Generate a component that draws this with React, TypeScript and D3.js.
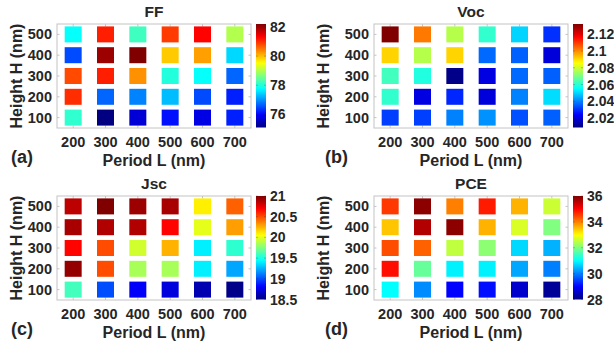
import React from "react";
import * as d3 from "d3";

const periods = [200, 300, 400, 500, 600, 700];
const heights = [100, 200, 300, 400, 500];

// rows follow heights (100 -> 500), columns follow periods
const ffValues = [
  [78.1, 75.1, 75.7, 76.1, 75.8, 76.2],
  [81.0, 76.7, 76.9, 77.3, 76.5, 76.2],
  [80.8, 81.1, 80.3, 78.0, 77.8, 76.7],
  [76.5, 82.0, 82.2, 79.9, 80.2, 77.5],
  [77.8, 81.1, 78.2, 80.9, 81.3, 79.0],
];
const vocValues = [
  [2.032, 2.032, 2.04, 2.042, 2.034, 2.036],
  [2.061, 2.021, 2.029, 2.02, 2.04, 2.051],
  [2.063, 2.059, 2.01, 2.021, 2.037, 2.036],
  [2.091, 2.077, 2.091, 2.037, 2.036, 2.02],
  [2.132, 2.102, 2.077, 2.061, 2.05, 2.03],
];
const jscValues = [
  [19.6, 19.0, 18.8, 18.73, 18.62, 18.52],
  [20.95, 20.5, 19.85, 19.85, 19.4, 19.22],
  [20.68, 20.5, 19.95, 20.25, 19.4, 19.55],
  [20.9, 20.88, 20.88, 20.68, 20.0, 20.3],
  [20.85, 21.0, 20.93, 20.9, 20.1, 20.45],
];
const pceValues = [
  [31.0, 30.1, 29.0, 29.1, 28.6, 28.2],
  [34.9, 31.8, 30.9, 30.9, 30.3, 30.0],
  [34.4, 34.25, 32.5, 32.1, 30.7, 30.4],
  [33.45, 35.6, 35.9, 33.6, 32.7, 32.0],
  [34.56, 35.9, 34.0, 34.8, 33.6, 32.6],
];

const titles = ["FF", "Voc", "Jsc", "PCE"];
const panelLabels = ["(a)", "(b)", "(c)", "(d)"];
const colorDomains: [number, number][] = [
  [75.1, 82.2],
  [2.009, 2.132],
  [18.5, 21],
  [28, 36],
];
const colorTicks = [
  [76, 78, 80, 82],
  [2.02, 2.04, 2.06, 2.08, 2.1, 2.12],
  [18.5, 19, 19.5, 20, 20.5, 21],
  [28, 30, 32, 34, 36],
];
const xLabel = "Period L (nm)";
const yLabel = "Height H (nm)";

function jet(t: number): string {
  t = Math.max(0, Math.min(1, t));
  const f = (x: number) => Math.max(0, Math.min(1, x));
  const r = f(Math.min(4 * t - 1.5, -4 * t + 4.5));
  const g = f(Math.min(4 * t - 0.5, -4 * t + 3.5));
  const b = f(Math.min(4 * t + 0.5, -4 * t + 2.5));
  return d3.rgb(r * 255, g * 255, b * 255).formatHex();
}

const panels = [
  { ax: 57, ay: 24, ylx: 22, plx: 11 },
  { ax: 374, ay: 24, ylx: 329, plx: 325 },
  { ax: 57, ay: 196, ylx: 22, plx: 11 },
  { ax: 374, ay: 196, ylx: 329, plx: 325 },
];
const W = 194;
const H = 104;
const TXT = "#262626";
const FONT = "'Liberation Sans', Arial, sans-serif";

function Panel({ idx }: { idx: number }) {
  const p = panels[idx];
  const values = [ffValues, vocValues, jscValues, pceValues][idx];
  const x = d3.scaleLinear().domain([150, 750]).range([p.ax, p.ax + W]);
  const y = d3.scaleLinear().domain([50, 550]).range([p.ay + H, p.ay]);
  const dom = colorDomains[idx];
  const cnorm = d3.scaleLinear().domain(dom).range([0, 1]);
  const cbX = p.ax + W + 5;
  const cbW = 10;
  const cbY = d3.scaleLinear().domain(dom).range([p.ay + H - 0.5, p.ay]);
  const gid = `jetgrad${idx}`;
  const stops = d3.range(0, 1.0001, 0.02);
  const tl = 2.5;
  return (
    <g>
      <defs>
        <linearGradient id={gid} x1="0" y1="1" x2="0" y2="0">
          {stops.map((s) => (
            <stop key={s} offset={s} stopColor={jet(s)} />
          ))}
        </linearGradient>
      </defs>
      <rect x={p.ax} y={p.ay} width={W} height={H} fill="white" stroke="#c4c4c4" strokeWidth={1} />
      {periods.map((v) => (
        <g key={"xt" + v}>
          <line x1={x(v)} x2={x(v)} y1={p.ay + H} y2={p.ay + H - tl} stroke="#c4c4c4" />
          <line x1={x(v)} x2={x(v)} y1={p.ay} y2={p.ay + tl} stroke="#c4c4c4" />
          <text x={x(v)} y={p.ay + H + 19} textAnchor="middle" fontSize={14.5} fontWeight="bold" fill={TXT} fontFamily={FONT}>
            {v}
          </text>
        </g>
      ))}
      {heights.map((v) => (
        <g key={"yt" + v}>
          <line x1={p.ax} x2={p.ax + tl} y1={y(v)} y2={y(v)} stroke="#c4c4c4" />
          <line x1={p.ax + W} x2={p.ax + W - tl} y1={y(v)} y2={y(v)} stroke="#c4c4c4" />
          <text x={p.ax - 5} y={y(v) + 5} textAnchor="end" fontSize={14.5} fontWeight="bold" fill={TXT} fontFamily={FONT}>
            {v}
          </text>
        </g>
      ))}
      {heights.map((h, i) =>
        periods.map((l, j) => (
          <rect
            key={`c${i}-${j}`}
            x={x(l) - 8.5}
            y={y(h) - 8}
            width={17}
            height={16}
            fill={jet(cnorm(values[i][j]))}
          />
        ))
      )}
      <text x={p.ax + W / 2} y={p.ay - 7} textAnchor="middle" fontSize={15.5} fontWeight="bold" fill={TXT} fontFamily={FONT}>
        {titles[idx]}
      </text>
      <text x={p.ax + W / 2} y={p.ay + H + 38} textAnchor="middle" fontSize={16} fontWeight="bold" fill={TXT} fontFamily={FONT}>
        {xLabel}
      </text>
      <text
        transform={`translate(${p.ylx},${p.ay + H / 2}) rotate(-90)`}
        textAnchor="middle"
        fontSize={16}
        fontWeight="bold"
        fill={TXT}
        fontFamily={FONT}
      >
        {yLabel}
      </text>
      <text x={p.plx} y={p.ay + H + 35} fontSize={18} fontWeight="bold" fill={TXT} fontFamily={FONT}>
        {panelLabels[idx]}
      </text>
      <rect x={cbX} y={p.ay} width={cbW} height={H - 0.5} fill={`url(#${gid})`} />
      {colorTicks[idx].map((t) => (
        <g key={"ct" + t}>
          <line x1={cbX} x2={cbX + 2} y1={cbY(t)} y2={cbY(t)} stroke="#26262680" strokeWidth={0.5} />
          <line x1={cbX + cbW} x2={cbX + cbW - 2} y1={cbY(t)} y2={cbY(t)} stroke="#26262680" strokeWidth={0.5} />
          <text x={cbX + cbW + 4} y={cbY(t) + 5} fontSize={14} fontWeight="bold" fill={TXT} fontFamily={FONT}>
            {String(t)}
          </text>
        </g>
      ))}
    </g>
  );
}

export default function App() {
  return (
    <svg
      width={614}
      height={349}
      style={{ position: "absolute", left: 0, top: 0, background: "white" }}
    >
      <rect x={0} y={0} width={614} height={349} fill="white" />
      {[0, 1, 2, 3].map((i) => (
        <Panel key={i} idx={i} />
      ))}
    </svg>
  );
}
